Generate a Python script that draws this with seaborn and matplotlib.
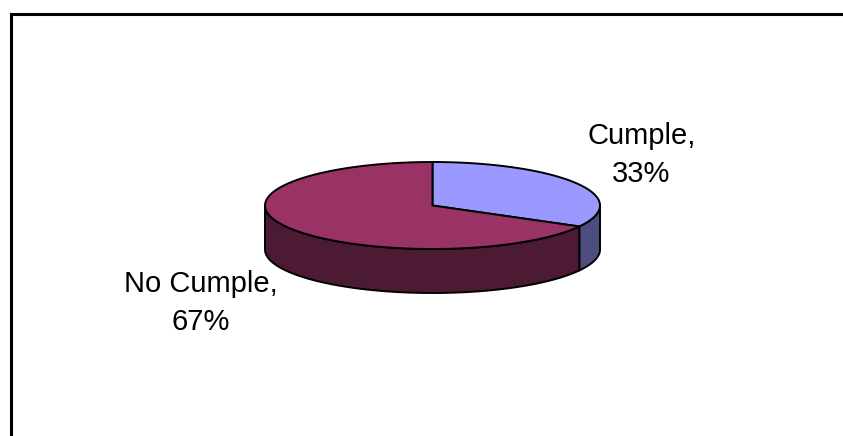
import numpy as np
import matplotlib
matplotlib.use("Agg")
import matplotlib.pyplot as plt
import seaborn as sns
from matplotlib.patches import Polygon

# Share of items that comply / do not comply
categories = ["Cumple", "No Cumple"]
shares = [33, 67]
top_colors = ["#9999FF", "#993366"]
side_colors = ["#4D4D80", "#4D1A33"]

sns.set_style("white")
plt.rcParams["font.family"] = ["Liberation Sans", "DejaVu Sans"]

fig = plt.figure(figsize=(8.43, 4.36), dpi=100)
ax = fig.add_axes([0, 0, 1, 1])
ax.set_xlim(0, 843)
ax.set_ylim(436, 0)
ax.axis("off")

# Frame (left and top edges)
ax.plot([11, 11, 845], [440, 14, 14], color="black", lw=2.2,
        solid_joinstyle="miter", solid_capstyle="projecting")

# Tilted pie geometry
cx, cy, a, b, depth = 432.5, 205.5, 167.5, 43.5, 44.0


def arc(t0, t1, dz=0.0, n=200):
    t = np.radians(np.linspace(t0, t1, n))
    return np.column_stack([cx + a * np.cos(t), cy - b * np.sin(t) + dz])


fracs = np.array(shares, dtype=float) / np.sum(shares)
cum = np.concatenate([[0], np.cumsum(fracs)])
start = 90.0
spans = [(start - cum[i] * 360, start - cum[i + 1] * 360) for i in range(len(shares))]

# Visible outer wall (front half of the disc)
for (t0, t1), col in zip(spans, side_colors):
    hi, lo = t0, t1
    for k in range(-2, 2):
        f_lo, f_hi = -180 + 360 * k, 0 + 360 * k
        s_lo, s_hi = max(lo, f_lo), min(hi, f_hi)
        if s_hi > s_lo:
            top = arc(s_lo, s_hi)
            bot = arc(s_hi, s_lo, dz=depth)
            ax.add_patch(Polygon(np.vstack([top, bot]), closed=True,
                                 facecolor=col, edgecolor="black", lw=1.4,
                                 joinstyle="round"))

# Top face wedges
for (t0, t1), col in zip(spans, top_colors):
    pts = np.vstack([[cx, cy], arc(t0, t1)])
    ax.add_patch(Polygon(pts, closed=True, facecolor=col, edgecolor="black",
                         lw=1.4, joinstyle="round"))

# Data labels
label_pos = [(641.5, 155), (200.5, 303)]
for cat, share, (x, y) in zip(categories, shares, label_pos):
    ax.text(x, y, f"{cat},\n{share}%", ha="center", va="center",
            fontsize=21, linespacing=1.45, color="black")

fig.savefig("out.png", dpi=100)
